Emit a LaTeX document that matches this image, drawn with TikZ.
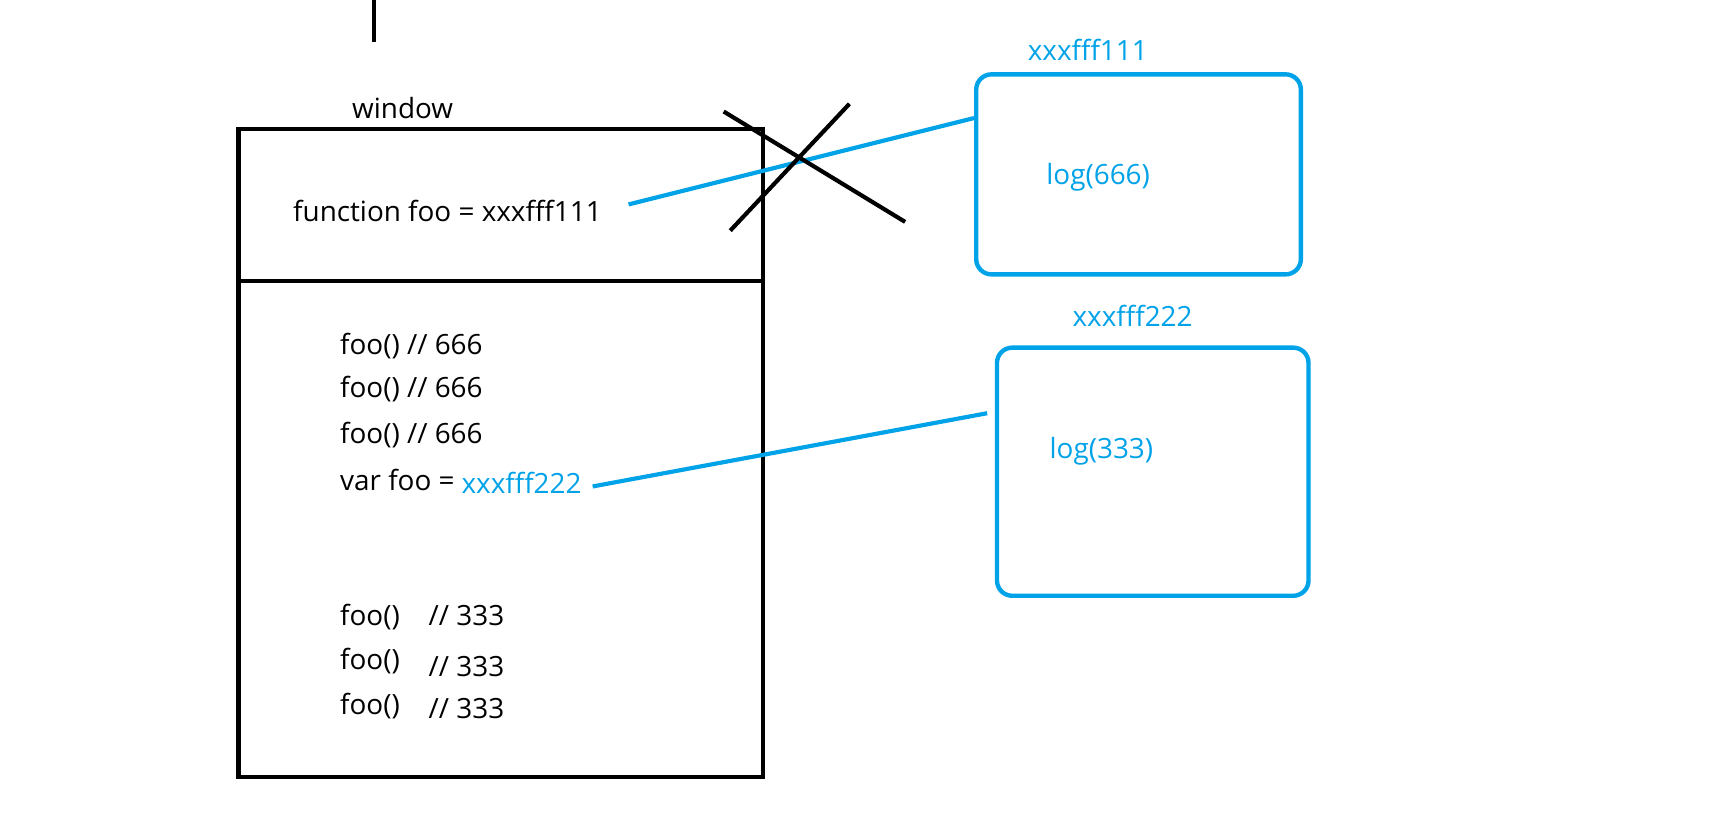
\documentclass[tikz,border=0pt]{standalone}
\usepackage{fontspec}
\setmainfont{Open Sans}
\definecolor{memblue}{HTML}{00A2E8}
\begin{document}
\begin{tikzpicture}[x=1pt, y=-1pt,
  code/.style={anchor=base west, inner sep=0pt, font=\fontsize{25.5}{30}\selectfont},
  addr/.style={code, text=memblue},
  heap/.style={draw=memblue, line width=4pt, rounded corners=14pt},
  ptr/.style={draw=memblue, line width=3.8pt}]
  \useasboundingbox (0,0) rectangle (1567,755);

  % Draw top mark
  \draw[line width=4pt] (342,0) -- (342,38);

  % Draw window
  \node[draw, line width=4pt, minimum width=480pt, minimum height=593pt] (win) at (458,414.5) {};
  \draw[line width=3.8pt] (win.west |- 0,257) -- (win.east |- 0,257);
  \node[code] (winlabel) at (322,108) {window};

  % Code lines
  \node[code] (fn) at (268,203) {function foo = xxxfff111};
  \node[code] (c1) at (311,324) {foo() // 666};
  \node[code] (c2) at (311,364) {foo() // 666};
  \node[code] (c3) at (311,406) {foo() // 666};
  \node[code] (v) at (311,449) {var foo =};
  \node[addr] (addrb) at (422,451) {xxxfff222};
  \node[code] (d1) at (311,572) {foo()};
  \node[code] (d2) at (311,612) {foo()};
  \node[code] (d3) at (311,654) {foo()};
  \node[code] (r1) at (392,572) {// 333};
  \node[code] (r2) at (392,619) {// 333};
  \node[code] (r3) at (392,657) {// 333};

  % Draw heap objects
  \node[heap, minimum width=297pt, minimum height=183pt] (mem1) at (1041.5,159.5) {};
  \node[heap, minimum width=285pt, minimum height=227pt] (mem2) at (1054.5,431.5) {};
  \node[addr] (addr1) at (940,55) {xxxfff111};
  \node[addr] (addr2) at (981,299) {xxxfff222};
  \node[addr] (log1) at (957,169) {log(666)};
  \node[addr] (log2) at (960,419) {log(333)};

  % Connect to heap objects
  \coordinate (p1) at (575,187);
  \draw[ptr] (p1) -- ([yshift=-42pt]mem1.north west);
  \draw[ptr] ([xshift=10pt,yshift=6pt]addrb.base east) -- ([xshift=-7pt,yshift=-62pt]mem2.north west);

  % Cross out old reference
  \draw[line width=3.8pt] (662,102) -- (828,203);
  \draw[line width=3.8pt] (777,95) -- (668,211);
\end{tikzpicture}
\end{document}
